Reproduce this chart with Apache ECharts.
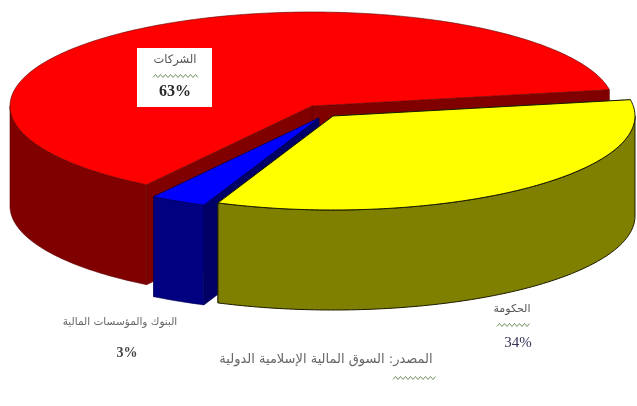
<!DOCTYPE html>
<html lang="ar">
<head>
<meta charset="utf-8">
<style>
  html, body { margin: 0; padding: 0; background: #fff; }
  #chart { width: 637px; height: 406px; }
</style>
<script src="https://cdn.jsdelivr.net/npm/echarts@6/dist/echarts.min.js"></script>
</head>
<body>
<div id="chart"></div>
<script>
// Shares drawn counter-clockwise from the first slice's start angle.
const shareNames = ['الشركات', 'البنوك والمؤسسات المالية', 'الحكومة'];
const shareValues = [63, 3, 34];
const sourceNote = 'المصدر: السوق المالية الإسلامية الدولية';

const topColors = ['#ff0000', '#0000ff', '#ffff00'];
const wallColors = ['#800000', '#000080', '#808000'];
const cutColors = ['#800000', '#000066', '#808000'];
const edgeColors = ['#5a0000', '#000050', '#1a1a00'];
const centres = [[312, 106], [319, 118], [333, 116]];

const START_ANGLE = 10;
const RX = 302;
const RY = 94;
const DEPTH = 100;
const total = shareValues.reduce((a, b) => a + b, 0);

function rim(c, deg, drop) {
  const t = deg * Math.PI / 180;
  return [c[0] + RX * Math.cos(t), c[1] - RY * Math.sin(t) + drop];
}
function arc(c, from, to, drop) {
  const pts = [];
  const steps = Math.max(2, Math.ceil(Math.abs(to - from)));
  for (let i = 0; i <= steps; i++) pts.push(rim(c, from + (to - from) * i / steps, drop));
  return pts;
}
function poly(points, fill, stroke, width) {
  return { type: 'polygon', shape: { points }, style: { fill, stroke, lineWidth: width } };
}

function renderSlice(params) {
  const i = params.dataIndex;
  let from = START_ANGLE;
  for (let k = 0; k < i; k++) from += shareValues[k] / total * 360;
  const to = from + shareValues[i] / total * 360;
  const c = centres[i];
  const edge = edgeColors[i];
  const lw = i === 2 ? 1 : 0.6;
  const children = [];

  // Cut faces, dropped from the apex to each end of the arc.
  [from, to].forEach((deg) => {
    const r0 = rim(c, deg, 0);
    children.push(poly([[c[0], c[1]], r0, [r0[0], r0[1] + DEPTH], [c[0], c[1] + DEPTH]], cutColors[i], edge, 0.5));
  });

  // Outer wall on the part of the arc facing the viewer.
  const wallFrom = Math.max(from, 180);
  const wallTo = Math.min(to, 360);
  if (wallTo > wallFrom) {
    const pts = arc(c, wallFrom, wallTo, 0).concat(arc(c, wallTo, wallFrom, DEPTH));
    children.push(poly(pts, wallColors[i], edge, lw));
  }

  // Top face.
  children.push(poly([[c[0], c[1]]].concat(arc(c, from, to, 0)), topColors[i], edge, lw));
  return { type: 'group', children };
}

// Spell-check style zigzag under a word.
function squiggle(x0, x1, y) {
  const pts = [];
  for (let x = x0, up = false; x <= x1; x += 2.5, up = !up) pts.push([x, y + (up ? -1.5 : 1.5)]);
  return { type: 'polyline', z: 10, shape: { points: pts }, style: { stroke: '#4f7a3c', lineWidth: 0.8, fill: null } };
}
function label(text, x, y, size, color, weight, family) {
  return {
    type: 'text', z: 11, x, y,
    style: {
      text, fill: color, align: 'center', verticalAlign: 'middle',
      font: (weight || 'normal') + ' ' + size + 'px ' + (family || '"DejaVu Sans"')
    }
  };
}
const SERIF = '"Liberation Serif"';

const chart = echarts.init(document.getElementById('chart'), null, { renderer: 'canvas' });
chart.setOption({
  animation: false,
  backgroundColor: '#ffffff',
  series: [{
    type: 'custom',
    coordinateSystem: 'none',
    silent: true,
    renderItem: renderSlice,
    data: shareValues.map((v, i) => ({ name: shareNames[i], value: v }))
  }],
  graphic: [
    { type: 'rect', z: 9, shape: { x: 137, y: 48, width: 75, height: 59 }, style: { fill: '#ffffff' } },
    label(shareNames[0], 175, 60, 11.5, '#555555'),
    squiggle(153, 198, 76),
    label(shareValues[0] + '%', 175, 92, 16, '#2b2b2b', 'bold', SERIF),
    label(shareNames[1], 120, 322, 10.5, '#666666'),
    label(shareValues[1] + '%', 127, 353, 14, '#444444', 'bold', SERIF),
    label(shareNames[2], 512, 309, 11, '#555555'),
    squiggle(497, 530, 325),
    label(shareValues[2] + '%', 518, 343, 15, '#333355', 'normal', SERIF),
    label(sourceNote, 326, 360, 13, '#666666'),
    squiggle(393, 437, 378)
  ]
});
</script>
</body>
</html>
